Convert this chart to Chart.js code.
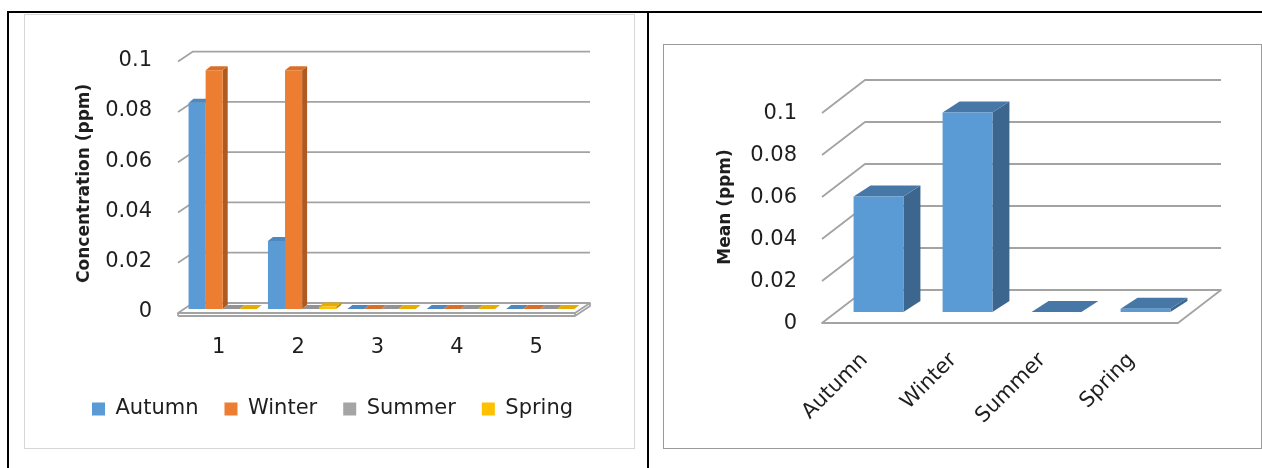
<!DOCTYPE html>
<html><head><meta charset="utf-8">
<script src="https://cdn.jsdelivr.net/npm/chart.js@4.4.1/dist/chart.umd.min.js"></script>
<style>
html,body{margin:0;padding:0;background:#fff;width:1262px;height:468px;overflow:hidden;position:relative}
.b{position:absolute;background:#000}
.frame{position:absolute;box-sizing:border-box;background:#fff}
canvas{position:absolute;display:block}
</style></head><body>
<div class="b" style="left:8px;top:11px;width:1254px;height:2px"></div>
<div class="b" style="left:7px;top:11px;width:2px;height:457px"></div>
<div class="b" style="left:647px;top:11px;width:2px;height:457px"></div>
<div class="frame" style="left:24px;top:14px;width:611px;height:435px;border:1px solid #d6d6d6"></div>
<div class="frame" style="left:663px;top:44px;width:599px;height:405px;border:1px solid #9a9a9a"></div>
<canvas id="c1" width="610" height="434" style="left:24px;top:14px"></canvas>
<canvas id="c2" width="598" height="404" style="left:663px;top:44px"></canvas>
<script>
// ---- data ----
const categoriesLeft = ['1', '2', '3', '4', '5'];
const seriesNames = ['Autumn', 'Winter', 'Summer', 'Spring'];
const autumn = [0.082, 0.027, 0, 0, 0];
const winter = [0.095, 0.095, 0, 0, 0];
const summer = [0, 0, 0, 0, 0];
const spring = [0, 0.001, 0, 0, 0];
const seasonCategories = ['Autumn', 'Winter', 'Summer', 'Spring'];
const meanValues = [0.055, 0.095, 0, 0.0015];
const yTickValues = [0, 0.02, 0.04, 0.06, 0.08, 0.1];
const yTickLabels = ['0', '0.02', '0.04', '0.06', '0.08', '0.1'];

// ---- styles ----
const FONT = 'DejaVu Sans';
const TEXT = '#1e1e1e';
Chart.defaults.font.family = FONT;
Chart.defaults.color = TEXT;

const palette = {
  Autumn: {front: '#5B9BD5', top: '#4E88C0', side: '#41719C'},
  Winter: {front: '#ED7D31', top: '#D96F28', side: '#AE5A21'},
  Summer: {front: '#A5A5A5', top: '#939393', side: '#7C7C7C'},
  Spring: {front: '#FFC000', top: '#E6AC00', side: '#BF9000'}
};
const meanStyle = {front: '#5B9BD5', top: '#4677A6', side: '#3D668F'};

// 3D effect plugin: back-wall gridlines, floor, bar top & side faces
const threeD = {
  id: 'threeD',
  beforeDatasetsDraw(chart, args, o) {
    const {ctx} = chart;
    const {left, right} = chart.chartArea;
    const y = chart.scales.y;
    const f = o.front, b = o.back, d = o.depth;
    ctx.save();
    ctx.lineJoin = 'round';
    const y0 = y.getPixelForValue(0);
    // floor
    ctx.beginPath();
    ctx.moveTo(left + f.dx, y0 + f.dy);
    ctx.lineTo(right + f.dx, y0 + f.dy);
    ctx.lineTo(right + b.dx, y0 + b.dy);
    ctx.lineTo(left + b.dx, y0 + b.dy);
    ctx.closePath();
    ctx.fillStyle = '#ffffff';
    ctx.fill();
    ctx.strokeStyle = o.gridColor;
    ctx.lineWidth = o.gridWidth;
    ctx.stroke();
    if (o.floorThick) {
      ctx.beginPath();
      ctx.moveTo(left + f.dx, y0 + f.dy + o.floorThick);
      ctx.lineTo(right + f.dx, y0 + f.dy + o.floorThick);
      ctx.lineTo(right + b.dx, y0 + b.dy + o.floorThick);
      ctx.lineTo(right + b.dx, y0 + b.dy);
      ctx.moveTo(left + f.dx, y0 + f.dy);
      ctx.lineTo(left + f.dx, y0 + f.dy + o.floorThick);
      ctx.moveTo(right + f.dx, y0 + f.dy);
      ctx.lineTo(right + f.dx, y0 + f.dy + o.floorThick);
      ctx.stroke();
    }
    // walls gridlines
    y.ticks.forEach(t => {
      if (t.value === 0) return;
      const py = y.getPixelForValue(t.value);
      ctx.beginPath();
      ctx.moveTo(left + f.dx, py + f.dy);
      ctx.lineTo(left + b.dx, py + b.dy);
      ctx.lineTo(right + b.dx, py + b.dy);
      ctx.stroke();
    });
    // bar faces (drawn left to right, fronts drawn by Chart.js afterwards)
    const items = [];
    chart.data.datasets.forEach((ds, i) => {
      const meta = chart.getDatasetMeta(i);
      meta.data.forEach(el => items.push({el, st: ds.face}));
    });
    items.sort((a, c) => a.el.x - c.el.x);
    items.forEach(({el, st}) => {
      const x0 = el.x - el.width / 2, x1 = el.x + el.width / 2;
      const top = el.y, base = el.base;
      // side
      ctx.fillStyle = st.side;
      ctx.beginPath();
      ctx.moveTo(x1, top);
      ctx.lineTo(x1 + d.dx, top + d.dy);
      ctx.lineTo(x1 + d.dx, base + d.dy);
      ctx.lineTo(x1, base);
      ctx.closePath();
      ctx.fill();
      // top
      ctx.fillStyle = st.top;
      ctx.beginPath();
      ctx.moveTo(x0, top);
      ctx.lineTo(x0 + d.dx, top + d.dy);
      ctx.lineTo(x1 + d.dx, top + d.dy);
      ctx.lineTo(x1, top);
      ctx.closePath();
      ctx.fill();
    });
    ctx.restore();
  }
};

function yAxis(width, padding, labelOffset, title, titlePad) {
  return {
    min: 0, max: 0.1,
    afterBuildTicks: s => { s.ticks = yTickValues.map(v => ({value: v})); },
    afterFit: s => { s.width = width; },
    grid: {display: false, drawTicks: false},
    border: {display: false},
    ticks: {
      padding: padding, labelOffset: labelOffset, color: TEXT,
      font: {size: 21, family: FONT},
      callback: (v, i) => yTickLabels[i]
    },
    title: {
      display: true, text: title, color: TEXT,
      font: {size: 17, weight: 'bold', family: FONT},
      padding: {top: titlePad, bottom: 0}
    }
  };
}

// ---- left chart ----
const leftSeries = [autumn, winter, summer, spring];
new Chart(document.getElementById('c1'), {
  type: 'bar',
  data: {
    labels: categoriesLeft,
    datasets: seriesNames.map((n, i) => ({
      label: n,
      data: leftSeries[i],
      backgroundColor: palette[n].front,
      borderWidth: 0,
      face: palette[n],
      categoryPercentage: 0.86,
      barPercentage: 1.0
    }))
  },
  options: {
    responsive: false,
    animation: false,
    events: [],
    layout: {padding: {left: 42, right: 10, top: 42, bottom: 18.5}},
    scales: {
      x: {
        grid: {display: false, drawTicks: false},
        border: {display: false},
        afterFit: s => { s.height = 63.5; },
        ticks: {padding: 26, labelOffset: -4, color: TEXT, font: {size: 21, family: FONT}, maxRotation: 0}
      },
      y: yAxis(117, 31, 3, 'Concentration (ppm)', 8),
      y2: {
        position: 'right', display: true,
        afterFit: s => { s.width = 44; },
        grid: {display: false, drawTicks: false},
        border: {display: false},
        ticks: {display: false}
      }
    },
    plugins: {
      legend: {
        position: 'bottom', align: 'start',
        labels: {boxWidth: 13, boxHeight: 13, padding: 26, color: TEXT, font: {size: 21, family: FONT}}
      },
      tooltip: {enabled: false},
      threeD: {front: {dx: -5, dy: 4}, back: {dx: 10, dy: -6}, depth: {dx: 5, dy: -4},
               gridColor: '#a3a3a3', gridWidth: 1.8, floorThick: 3}
    }
  },
  plugins: [threeD]
});

// ---- right chart ----
new Chart(document.getElementById('c2'), {
  type: 'bar',
  data: {
    labels: seasonCategories,
    datasets: [{
      label: 'Mean',
      data: meanValues,
      backgroundColor: meanStyle.front,
      borderWidth: 0,
      face: meanStyle,
      categoryPercentage: 0.56,
      barPercentage: 1.0
    }]
  },
  options: {
    responsive: false,
    animation: false,
    events: [],
    layout: {padding: {left: 20, right: 71, top: 58, bottom: 0}},
    scales: {
      x: {
        grid: {display: false, drawTicks: false},
        border: {display: false},
        afterFit: s => { s.height = 136; },
        ticks: {padding: 36, labelOffset: -14, color: TEXT, font: {size: 21, family: FONT},
                minRotation: 45, maxRotation: 45, autoSkip: false}
      },
      y: yAxis(151, 37, 12, 'Mean (ppm)', 32)
    },
    plugins: {
      legend: {display: false},
      tooltip: {enabled: false},
      threeD: {front: {dx: -12, dy: 11}, back: {dx: 31, dy: -22}, depth: {dx: 17, dy: -11},
               gridColor: '#a3a3a3', gridWidth: 1.8, floorThick: 0}
    }
  },
  plugins: [threeD]
});
</script>
</body></html>
